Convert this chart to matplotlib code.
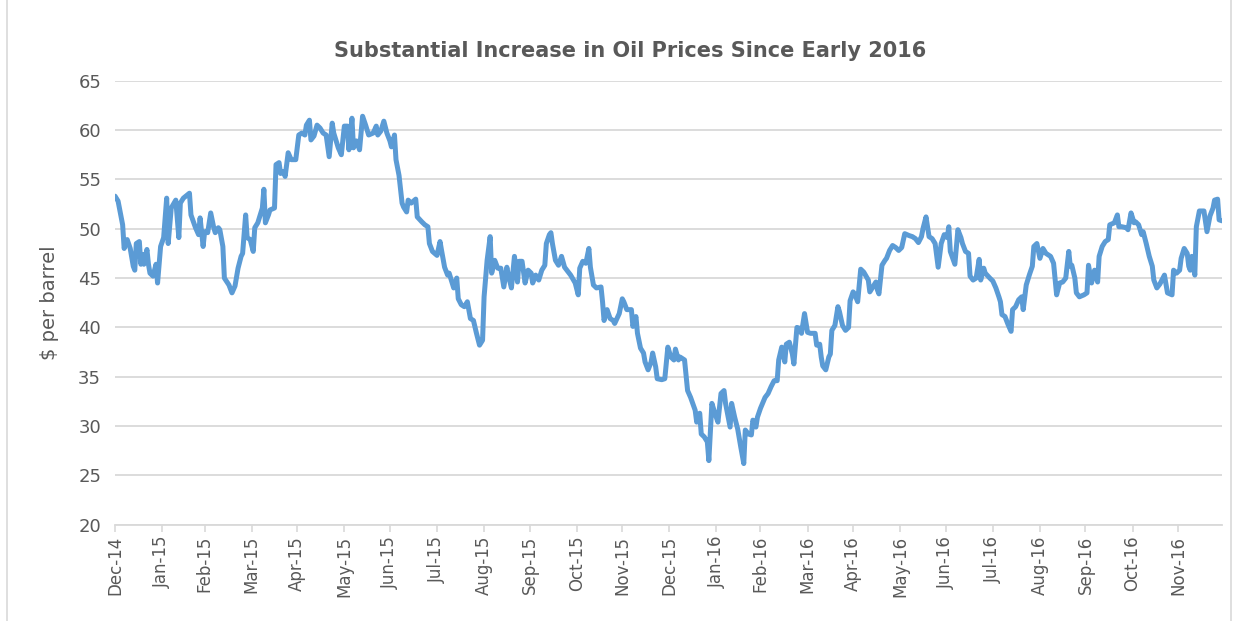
import matplotlib
matplotlib.use("Agg")
import matplotlib.pyplot as plt
from matplotlib.patches import Rectangle
import pandas as pd

# days after 2014-12-31 and price in $ per barrel
days = [0, 2, 5, 6, 8, 10, 12, 13, 14, 16, 17, 18, 19, 21, 22, 23, 25, 27, 28, 30,
        32, 34, 35, 37, 40, 42, 43, 45, 49, 50, 53, 55, 56, 58, 59, 61, 63, 65, 66, 68,
        69, 71, 72, 75, 77, 79, 81, 83, 84, 86, 87, 89, 91, 92, 94, 97, 98, 99, 101, 102,
        105, 106, 108, 109, 111, 112, 114, 116, 119, 121, 123, 125, 126, 128, 129, 131, 133, 135, 137, 139,
        141, 143, 144, 147, 149, 151, 153, 154, 156, 157, 159, 161, 163, 165, 167, 170, 172, 173, 175, 177,
        179, 181, 182, 184, 185, 187, 189, 190, 192, 193, 195, 198, 199, 202, 204, 206, 207, 209, 212, 214,
        215, 217, 219, 220, 223, 225, 226, 228, 230, 232, 234, 236, 238, 240, 242, 243, 245, 247, 248, 250,
        252, 254, 256, 258, 259, 261, 263, 265, 266, 268, 270, 272, 274, 275, 277, 279, 281, 283, 284, 286,
        287, 288, 290, 292, 294, 296, 299, 300, 303, 305, 306, 308, 310, 312, 313, 315, 317, 320, 321, 322,
        324, 326, 328, 329, 332, 334, 335, 337, 340, 341, 343, 344, 346, 348, 349, 351, 353, 354, 356, 357,
        360, 362, 364, 366, 368, 369, 371, 372, 375, 377, 379, 382, 383, 385, 386, 388, 390, 391, 393, 395,
        397, 399, 401, 402, 405, 406, 408, 410, 412, 414, 415, 417, 419, 420, 422, 423, 425, 428, 430, 432,
        434, 436, 437, 439, 441, 442, 444, 446, 447, 449, 451, 452, 454, 456, 458, 461, 462, 464, 465, 466,
        468, 470, 471, 472, 474, 476, 477, 479, 481, 483, 484, 486, 487, 489, 491, 493, 496, 497, 499, 501,
        502, 503, 505, 507, 508, 510, 512, 514, 516, 518, 520, 523, 525, 527, 529, 531, 532, 534, 536, 538,
        540, 542, 544, 546, 548, 549, 550, 553, 555, 557, 558, 560, 562, 563, 565, 567, 569, 570, 572, 573,
        576, 578, 580, 582, 583, 584, 586, 588, 590, 591, 593, 595, 597, 598, 600, 602, 604, 605, 607, 609,
        611, 613, 616, 618, 620, 622, 624, 626, 628, 629, 630, 632, 633, 635, 638, 640, 641, 643, 645, 647,
        648, 650, 652, 654, 655, 658, 660, 661, 663, 666, 667, 669, 671, 672, 674, 676, 677, 679, 681, 683,
        684, 686, 688, 690, 691, 693, 696, 697, 699, 701, 702, 704, 706, 707, 708, 709, 711, 712, 714, 717,
        719, 721, 723, 724, 726, 727, 729]

price = [53.3, 52.8, 50.4, 48.0, 48.9, 48.0, 46.2, 45.8, 48.5, 48.7, 46.4, 47.4, 46.4, 47.9, 46.4, 45.5, 45.2, 46.4, 44.5, 48.2,
         49.1, 53.1, 48.5, 52.1, 52.9, 49.1, 52.6, 53.1, 53.6, 51.4, 50.1, 49.4, 51.1, 48.2, 49.7, 49.6, 51.6, 50.1, 49.6, 50.1,
         49.9, 48.2, 45.0, 44.3, 43.5, 44.2, 46.0, 47.2, 47.5, 51.4, 49.1, 48.9, 47.7, 50.1, 50.6, 52.1, 54.0, 50.6, 51.4, 51.9,
         52.1, 56.5, 56.7, 55.6, 55.8, 55.3, 57.7, 57.0, 57.0, 59.5, 59.7, 59.5, 60.5, 61.0, 59.0, 59.4, 60.5, 60.2, 59.7, 59.5,
         57.3, 60.7, 59.7, 58.2, 57.5, 60.4, 60.4, 58.0, 61.2, 58.2, 58.9, 58.0, 61.4, 60.5, 59.5, 59.7, 60.4, 59.5, 59.9, 60.9,
         59.7, 58.9, 58.3, 59.5, 57.0, 55.4, 52.6, 52.2, 51.7, 52.9, 52.6, 53.0, 51.2, 50.7, 50.4, 50.2, 48.5, 47.7, 47.3, 48.7,
         47.8, 46.1, 45.3, 45.5, 44.0, 45.0, 42.9, 42.3, 42.1, 42.6, 40.9, 40.7, 39.4, 38.2, 38.7, 43.1, 46.8, 49.2, 45.5, 46.8,
         46.0, 46.0, 44.1, 46.1, 45.3, 44.0, 47.2, 44.6, 46.7, 46.7, 44.5, 45.8, 45.5, 44.5, 45.3, 44.8, 45.8, 46.3, 48.5, 49.4,
         49.6, 48.5, 46.8, 46.3, 47.2, 46.1, 45.5, 45.3, 44.5, 43.3, 46.0, 46.7, 46.5, 48.0, 46.1, 44.3, 44.0, 44.1, 42.6, 40.7,
         41.8, 40.9, 40.7, 40.4, 41.4, 42.9, 42.6, 41.8, 41.8, 40.1, 41.1, 39.4, 37.9, 37.4, 36.5, 35.7, 36.5, 37.4, 36.0, 34.8,
         34.7, 34.8, 38.0, 37.0, 36.7, 37.8, 36.7, 37.0, 36.7, 33.6, 32.9, 31.6, 30.4, 31.3, 29.2, 28.9, 28.4, 26.5, 32.3, 31.3,
         30.4, 33.3, 33.6, 32.3, 29.9, 32.3, 30.9, 29.7, 27.9, 26.2, 29.6, 29.2, 29.1, 30.6, 29.9, 30.9, 31.8, 32.9, 33.3, 34.0,
         34.6, 34.6, 36.7, 38.0, 36.5, 38.3, 38.5, 37.3, 36.3, 40.0, 39.9, 39.4, 41.4, 39.5, 39.4, 39.4, 38.2, 38.3, 37.0, 36.1,
         35.7, 37.0, 37.3, 39.7, 40.2, 42.1, 41.6, 40.2, 39.7, 40.0, 42.7, 43.6, 43.4, 42.6, 45.9, 45.6, 44.8, 43.6, 44.1, 44.6,
         43.8, 43.4, 46.3, 46.8, 47.0, 47.8, 48.3, 48.1, 47.8, 48.1, 49.5, 49.3, 49.2, 49.0, 48.6, 49.2, 50.0, 51.2, 49.2, 49.0,
         48.5, 46.1, 48.5, 49.4, 49.1, 50.2, 47.7, 46.4, 49.9, 49.1, 48.5, 47.7, 47.5, 45.2, 44.8, 45.0, 46.9, 44.8, 46.0, 45.5,
         45.0, 44.7, 44.0, 43.1, 42.6, 41.3, 41.1, 40.3, 39.6, 41.8, 42.1, 42.8, 43.1, 41.8, 44.3, 45.3, 46.2, 48.2, 48.5, 47.0,
         48.0, 47.5, 47.2, 46.5, 43.3, 44.5, 44.6, 45.0, 47.7, 46.2, 46.3, 45.0, 43.5, 43.1, 43.3, 43.5, 46.3, 44.5, 45.8, 44.6,
         47.2, 48.2, 48.7, 48.9, 50.4, 50.6, 51.4, 50.2, 50.2, 50.1, 49.9, 51.6, 50.6, 50.7, 50.4, 49.4, 49.7, 48.5, 47.2, 46.2,
         44.8, 44.0, 44.4, 45.0, 45.3, 43.5, 43.3, 45.8, 45.5, 45.8, 47.0, 48.0, 47.5, 46.2, 45.8, 47.2, 45.3, 50.2, 51.8, 51.8,
         49.7, 51.3, 52.1, 52.9, 53.0, 50.9, 50.8]

start = pd.Timestamp("2014-12-31")
dates = start + pd.to_timedelta(days, unit="D")
month_ticks = pd.date_range("2014-12-31", "2016-11-30", freq="ME")
month_labels = [d.strftime("%b-%y") for d in month_ticks]

grey_text = "#595959"
grid_col = "#d9d9d9"

fig = plt.figure(figsize=(12.37, 6.21), dpi=100)
ax = fig.add_axes([0.093, 0.155, 0.895, 0.715])

ax.plot(dates, price, color="#5b9bd5", linewidth=3.6, solid_joinstyle="round",
        solid_capstyle="round")

ax.set_xlim(dates[0], dates[-1])
ax.set_ylim(20, 65)
ax.set_yticks(range(20, 66, 5))
ax.set_xticks(month_ticks)
ax.set_xticklabels(month_labels, rotation=90)

ax.grid(axis="y", color=grid_col, linewidth=1.3)
ax.set_axisbelow(True)
for side in ["left", "right", "top"]:
    ax.spines[side].set_visible(False)
ax.spines["bottom"].set_color(grid_col)
ax.spines["bottom"].set_linewidth(1.3)
ax.tick_params(axis="x", colors=grid_col, labelcolor=grey_text, labelsize=12,
               length=5, width=1.2, pad=3)
ax.tick_params(axis="y", length=0, labelcolor=grey_text, labelsize=13, pad=10)

ax.set_ylabel("$ per barrel", color=grey_text, fontsize=14, labelpad=14)
fig.text(0.509, 0.918, "Substantial Increase in Oil Prices Since Early 2016",
         color=grey_text, fontsize=15, fontweight="bold", ha="center", va="center")

fig.patches.append(Rectangle((0.006, -0.01), 0.989, 1.02, transform=fig.transFigure,
                             fill=False, edgecolor=grid_col, linewidth=1.2))

fig.savefig("out.png", dpi=100)
